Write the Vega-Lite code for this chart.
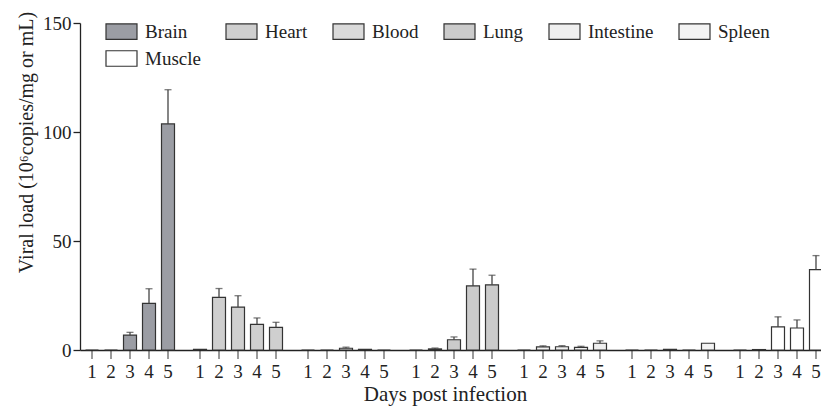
{
  "$schema": "https://vega.github.io/schema/vega-lite/v6.json",
  "width": 741,
  "height": 327,
  "autosize": {"type": "none"},
  "padding": {"left": 80, "top": 23, "right": 0, "bottom": 57},
  "background": "white",
  "config": {
    "view": {"stroke": null},
    "font": "Liberation Serif",
    "axis": {"labelFont": "Liberation Serif", "titleFont": "Liberation Serif", "grid": false}
  },
  "data": {
    "values": [
      {"tissue": "Brain", "day": 1, "value": 0, "upper": 0},
      {"tissue": "Brain", "day": 2, "value": 0, "upper": 0},
      {"tissue": "Brain", "day": 3, "value": 6.8, "upper": 8.1},
      {"tissue": "Brain", "day": 4, "value": 21.4, "upper": 28.1},
      {"tissue": "Brain", "day": 5, "value": 103.7, "upper": 119.4},
      {"tissue": "Heart", "day": 1, "value": 0.3, "upper": 0.3},
      {"tissue": "Heart", "day": 2, "value": 24.1, "upper": 28.2},
      {"tissue": "Heart", "day": 3, "value": 19.7, "upper": 24.9},
      {"tissue": "Heart", "day": 4, "value": 11.8, "upper": 14.7},
      {"tissue": "Heart", "day": 5, "value": 10.4, "upper": 12.7},
      {"tissue": "Blood", "day": 1, "value": 0, "upper": 0},
      {"tissue": "Blood", "day": 2, "value": 0, "upper": 0},
      {"tissue": "Blood", "day": 3, "value": 0.8, "upper": 1.3},
      {"tissue": "Blood", "day": 4, "value": 0.3, "upper": 0.3},
      {"tissue": "Blood", "day": 5, "value": 0, "upper": 0},
      {"tissue": "Lung", "day": 1, "value": 0, "upper": 0},
      {"tissue": "Lung", "day": 2, "value": 0.5, "upper": 0.9},
      {"tissue": "Lung", "day": 3, "value": 4.7, "upper": 6.0},
      {"tissue": "Lung", "day": 4, "value": 29.4, "upper": 37.1},
      {"tissue": "Lung", "day": 5, "value": 29.9, "upper": 34.3},
      {"tissue": "Intestine", "day": 1, "value": 0, "upper": 0},
      {"tissue": "Intestine", "day": 2, "value": 1.4, "upper": 1.9},
      {"tissue": "Intestine", "day": 3, "value": 1.5, "upper": 2.0},
      {"tissue": "Intestine", "day": 4, "value": 1.2, "upper": 1.7},
      {"tissue": "Intestine", "day": 5, "value": 3.1, "upper": 4.2},
      {"tissue": "Spleen", "day": 1, "value": 0, "upper": 0},
      {"tissue": "Spleen", "day": 2, "value": 0, "upper": 0},
      {"tissue": "Spleen", "day": 3, "value": 0.3, "upper": 0.3},
      {"tissue": "Spleen", "day": 4, "value": 0, "upper": 0},
      {"tissue": "Spleen", "day": 5, "value": 3.1, "upper": 3.1},
      {"tissue": "Muscle", "day": 1, "value": 0, "upper": 0},
      {"tissue": "Muscle", "day": 2, "value": 0.2, "upper": 0.2},
      {"tissue": "Muscle", "day": 3, "value": 10.6, "upper": 15.2},
      {"tissue": "Muscle", "day": 4, "value": 10.1, "upper": 13.8},
      {"tissue": "Muscle", "day": 5, "value": 36.9, "upper": 43.3}
    ]
  },
  "encoding": {
    "x": {
      "field": "tissue",
      "type": "nominal",
      "sort": ["Brain", "Heart", "Blood", "Lung", "Intestine", "Spleen", "Muscle"],
      "scale": {"range": [0, 748], "paddingInner": 0.176, "paddingOuter": 0.051},
      "axis": {
        "labels": false,
        "ticks": false,
        "domainColor": "#222",
        "domainWidth": 1.3,
        "title": "Days post infection",
        "titleFontSize": 21,
        "titleFontWeight": "normal",
        "titleColor": "#222",
        "titlePadding": 33,
        "titleX": 365
      }
    },
    "xOffset": {"field": "day", "type": "ordinal", "scale": {"paddingInner": 0.316, "paddingOuter": 0}}
  },
  "layer": [
    {
      "mark": {"type": "bar", "stroke": "#333", "strokeWidth": 1.2},
      "encoding": {
        "y": {
          "field": "value",
          "type": "quantitative",
          "scale": {"domain": [0, 150], "nice": false},
          "axis": {
            "values": [0, 50, 100, 150],
            "tickSize": 7,
            "tickColor": "#222",
            "tickWidth": 1.3,
            "domainColor": "#222",
            "domainWidth": 1.3,
            "labelFontSize": 19,
            "labelColor": "#222",
            "labelPadding": 2,
            "title": "Viral load (10⁶copies/mg or mL)",
            "titleFontSize": 20,
            "titleFontWeight": "normal",
            "titleColor": "#222",
            "titleBaseline": "alphabetic",
            "titleX": -48,
            "titleY": 119
          }
        },
        "fill": {
          "field": "tissue",
          "type": "nominal",
          "scale": {
            "domain": ["Brain", "Heart", "Blood", "Lung", "Intestine", "Spleen", "Muscle"],
            "range": ["#9b9da4", "#cfcfcf", "#dadada", "#cbcbcb", "#efefef", "#f3f3f3", "#ffffff"]
          },
          "legend": {
            "orient": "none",
            "legendX": 25,
            "legendY": -8,
            "columns": 6,
            "direction": "horizontal",
            "title": null,
            "symbolType": "M-1,-0.5H1V0.5H-1Z",
            "symbolSize": 961,
            "symbolStrokeColor": "#333",
            "symbolStrokeWidth": 1.2,
            "symbolOpacity": 1,
            "labelFontSize": 19,
            "labelFont": "Liberation Serif",
            "labelColor": "#222",
            "labelOffset": 7,
            "labelLimit": 200,
            "columnPadding": 22,
            "rowPadding": -5
          }
        }
      }
    },
    {
      "transform": [{"filter": "datum.upper > datum.value"}],
      "mark": {"type": "rule", "color": "#444", "strokeWidth": 1.3},
      "encoding": {
        "y": {"field": "value", "type": "quantitative"},
        "y2": {"field": "upper"}
      }
    },
    {
      "transform": [{"filter": "datum.upper > datum.value"}],
      "mark": {"type": "tick", "orient": "horizontal", "color": "#444", "size": 7, "thickness": 1.3},
      "encoding": {
        "y": {"field": "upper", "type": "quantitative"}
      }
    },
    {
      "mark": {"type": "tick", "orient": "vertical", "color": "#222", "size": 9, "thickness": 1.3, "yOffset": 4.5},
      "encoding": {
        "y": {"datum": 0}
      }
    },
    {
      "mark": {"type": "text", "baseline": "top", "dy": 13, "fontSize": 19, "font": "Liberation Serif", "color": "#222"},
      "encoding": {
        "y": {"datum": 0},
        "text": {"field": "day", "type": "ordinal"}
      }
    }
  ]
}
